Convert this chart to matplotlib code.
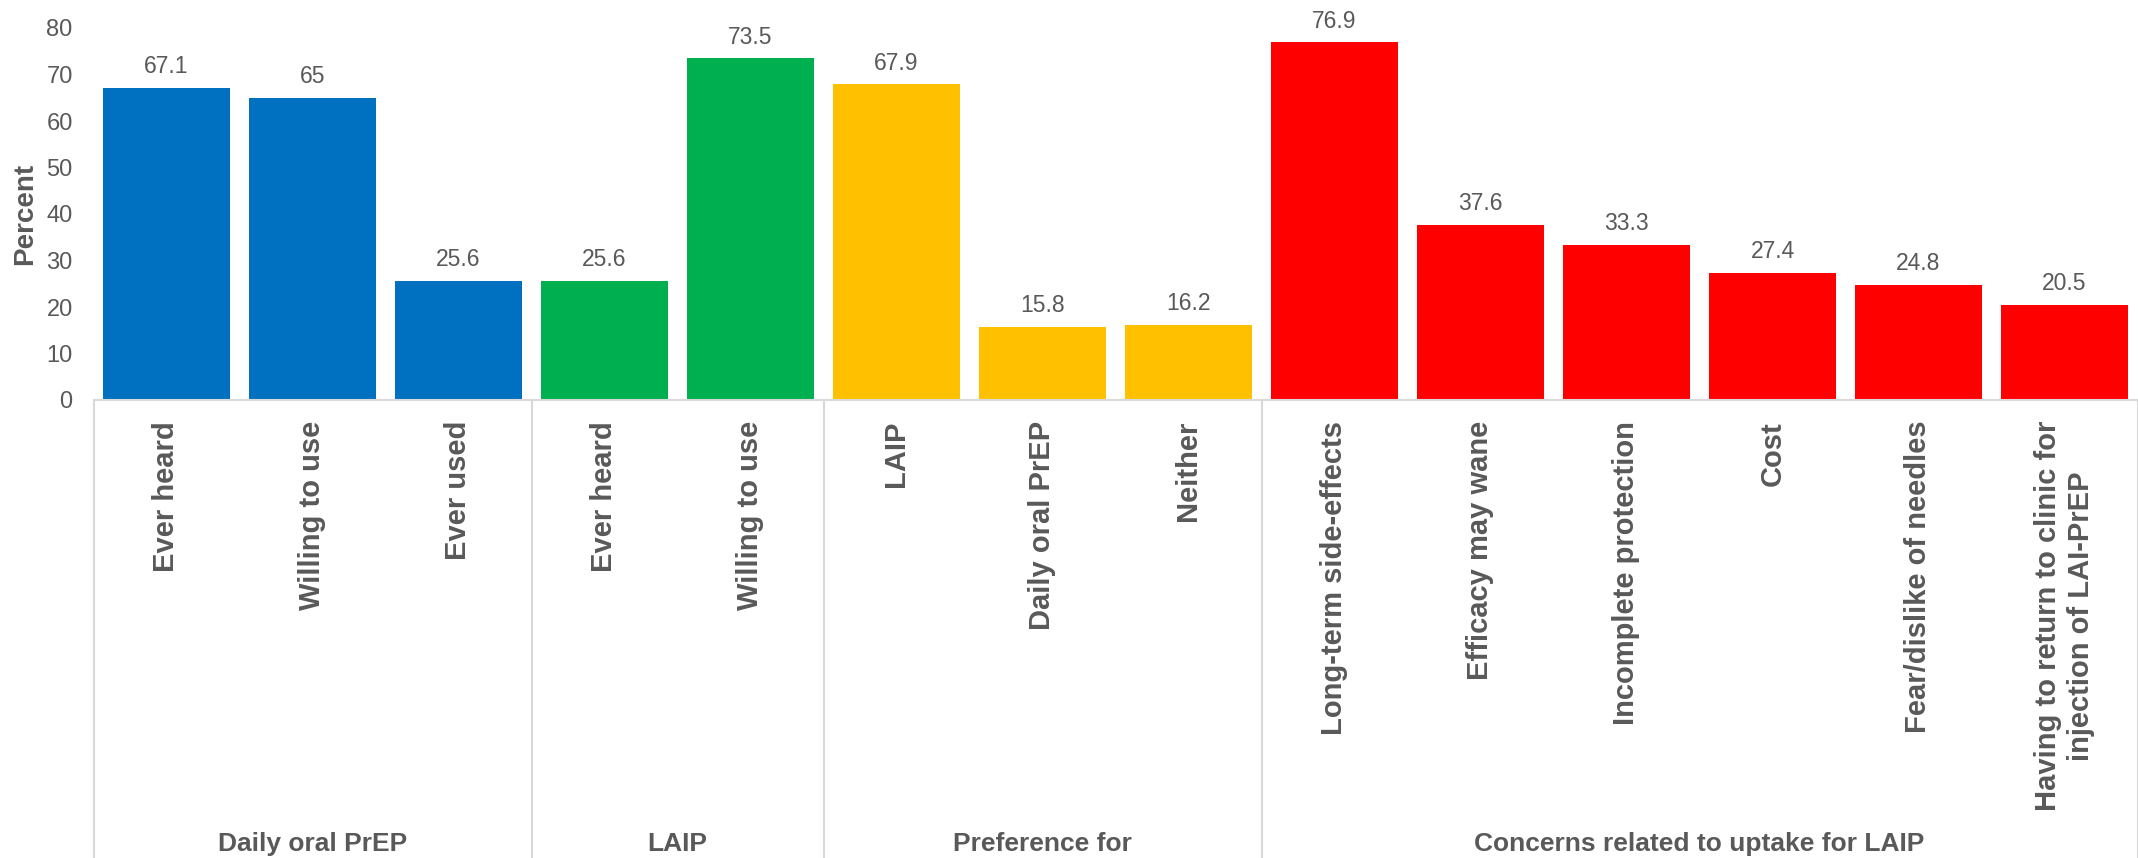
import matplotlib
matplotlib.use("Agg")
import matplotlib.pyplot as plt
from matplotlib.transforms import blended_transform_factory

plt.rcParams["font.family"] = ["Liberation Sans", "DejaVu Sans"]

# data
groups = ["Daily oral PrEP", "LAIP", "Preference for", "Concerns related to uptake for LAIP"]
group_sizes = [3, 2, 3, 6]
group_colors = ["#0070C0", "#00B050", "#FFC000", "#FF0000"]
labels = ["Ever heard", "Willing to use", "Ever used",
          "Ever heard", "Willing to use",
          "LAIP", "Daily oral PrEP", "Neither",
          "Long-term side-effects", "Efficacy may wane", "Incomplete protection",
          "Cost", "Fear/dislike of needles",
          "Having to return to clinic for\ninjection of LAI-PrEP"]
values = [67.1, 65, 25.6, 25.6, 73.5, 67.9, 15.8, 16.2, 76.9, 37.6, 33.3, 27.4, 24.8, 20.5]
yticks = [0, 10, 20, 30, 40, 50, 60, 70, 80]

TXT = "#595959"
LINE = "#D9D9D9"

W, H = 2138, 858
fig = plt.figure(figsize=(W / 100, H / 100), dpi=100)
ax_l, ax_r = 93.5 / W, 2137.5 / W
ax_b, ax_t = (H - 400) / H, (H - 28) / H
ax = fig.add_axes([ax_l, ax_b, ax_r - ax_l, ax_t - ax_b])

colors = []
for c, n in zip(group_colors, group_sizes):
    colors += [c] * n
x = list(range(len(values)))
ax.bar(x, values, width=0.87, color=colors, zorder=2)

for xi, v in zip(x, values):
    ax.annotate(f"{v:g}", (xi, v), xytext=(0, 7), textcoords="offset points",
                ha="center", va="bottom", fontsize=16.5, color=TXT)

ax.set_xlim(-0.5, len(values) - 0.5)
ax.set_ylim(0, 80)
ax.set_yticks(yticks)
ax.tick_params(axis="y", length=0, pad=15, labelsize=17, labelcolor=TXT)
ax.set_xticks(x)
ax.set_xticklabels(labels, rotation=90, fontsize=21, fontweight="bold", color=TXT,
                   va="top", ha="center", multialignment="center")
ax.tick_params(axis="x", length=0, pad=15)
for s in ("left", "right", "top"):
    ax.spines[s].set_visible(False)
ax.spines["bottom"].set_color(LINE)
ax.spines["bottom"].set_linewidth(1.5)
ax.set_ylabel("Percent", fontsize=20, fontweight="bold", color=TXT, labelpad=6)

# category box lines under the axis
tr = blended_transform_factory(ax.transData, fig.transFigure)
edges = [-0.5]
for n in group_sizes:
    edges.append(edges[-1] + n)
for e in edges:
    ax.plot([e, e], [ax_b, 0], transform=tr, color=LINE, lw=1.5, clip_on=False)
for g, lo, hi in zip(groups, edges[:-1], edges[1:]):
    ax.text((lo + hi) / 2, 14 / H, g, transform=tr, ha="center", va="center",
            fontsize=19, fontweight="bold", color=TXT)

fig.savefig("out.png", dpi=100)
